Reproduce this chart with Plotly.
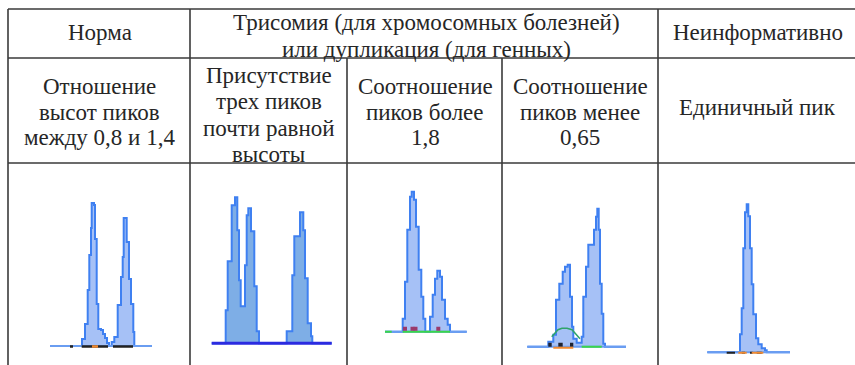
import plotly.graph_objects as go

# ---- page / table geometry (pixels) ----
W, H = 855, 365
ROW_LINES = [9, 58, 163]
FULL_COLS = [8, 190, 658]
SUB_COLS = [347, 502]

# ---- header texts: lines, centre x, first baseline, line step ----
headers = [
    (["Норма"], 99.5, 40.7, 0),
    (["Трисомия (для хромосомных болезней)", "или дупликация (для генных)"], 426, 30.5, 26.8),
    (["Неинформативно"], 758, 40.7, 0),
    (["Отношение", "высот пиков", "между 0,8 и 1,4"], 99.5, 94.3, 25.7),
    (["Присутствие", "трех пиков", "почти равной", "высоты"], 268.5, 83, 26.5),
    (["Соотношение", "пиков более", "1,8"], 425, 94.3, 25.7),
    (["Соотношение", "пиков менее", "0,65"], 580, 94.3, 25.7),
    (["Единичный пик"], 757, 115, 0),
]

# ---- electropherogram traces (position, signal) ----
norm_pos = [5, 37, 40, 42.7, 44.3, 46, 46.7, 49, 50, 51.7, 53.3, 56, 58, 60, 62, 64,
            66.7, 69.3, 72.7, 76, 77.7, 78.7, 81.7, 84, 86, 88.3, 89.3, 107]
norm_sig = [0, 7, 22, 56, 91, 118, 143, 141, 107, 42, 17, 16, 12, 8, 3, 0,
            4, 9, 41, 69, 89, 128, 104, 67, 42, 14, 0, 0]

tri_pos = [6.7, 20.7, 22.7, 26.7, 30, 32.3, 34, 35.7, 40, 41.7, 43.3, 46, 49.3, 51.7, 54,
           81.7, 87.3, 89.3, 95, 98.3, 100, 102.7, 106, 107.3, 126.7]
tri_sig = [0, 33, 82, 138, 146, 113, 63, 37, 78, 128, 135, 112, 57, 12, 0,
           12, 68, 107, 131, 113, 65, 20, 7, 0, 0]

hi_pos = [5, 22.7, 25, 27.3, 30, 31.7, 34, 36, 38.7, 41.3, 43.3, 45.3,
          50, 52.7, 55, 57.3, 60, 62, 65, 67.7, 70, 86.7]
hi_sig = [0, 13, 50, 102, 135, 140, 132, 105, 62, 35, 13, 0,
          15, 37, 53, 61, 55, 32, 13, 7, 0, 0]

lo_pos = [7.3, 28.3, 33.3, 36, 39.3, 42.7, 45, 47.7, 50, 52, 53.3, 56.7,
          61.7, 63.3, 66, 68.3, 74, 76, 77.3, 78.7, 80, 81.7, 83.3, 85, 106]
lo_sig = [0, 5, 12, 47, 63, 75, 80, 82, 50, 20, 8, 4,
          10, 50, 80, 102, 117, 130, 138, 117, 63, 33, 3, 0, 0]

single_pos = [7.3, 40, 41.7, 43.3, 45, 46.7, 48.3, 50, 51.7, 53.3, 56, 58.3, 61.7, 65, 66.7, 90]
single_sig = [0, 18, 44, 104, 140, 148, 136, 104, 68, 38, 14, 8, 4, 2, 0, 0]

# low-level bins along the baseline
norm_black = [25, 28, None, 36.7, 63, None, 68, 88]
norm_orange = [47, 53]
lo_arc_pos = [31.7, 35, 38, 42, 47, 52, 55, 58, 60]
lo_arc_sig = [10, 14, 17, 18.5, 18.5, 17, 14, 11, 8]
lo_black = [28.3, 31.7, None, 38.3, 42.7, None, 50, 53.3]
lo_orange = [33.3, 53.3]
hi_green = [5, 11.7, None, 22.7, 70]
hi_marks = [25, 32.5, 35.5, 58.3]
lo_green = [61.7, 81.7]
single_black = [26.7, 35, None, 41.7, 45, None, 50, 52.7, None, 56.7, 61.7]
single_orange = [38.3, 46.7, None, 51.7, 63.3]

# panel placement: (left px, baseline px)
panels = [
    (45, 346.0),
    (205, 343.3),
    (380, 331.7),
    (520, 346.7),
    (700, 352.3),
]
PAD_X, PAD_Y, SPAN_X, SPAN_Y = 5, 8, 130, 160

OUTLINE = "#3f80f1"
FILL = "#a6c1f6"
FILL_DARK = "#7eaee6"
BASE = "#6a9df1"
SERIF = "Liberation Serif"
FONT_SIZE = 23
# Liberation Serif: (ascent - descent) / 2 in em, offset of the box centre above the baseline
MID_ABOVE_BASE = 0.3375 * FONT_SIZE

fig = go.Figure()
layout_axes = {}

for i, (left, base) in enumerate(panels, start=1):
    xd = [(left - PAD_X) / W, (left + SPAN_X) / W]
    yd = [(H - (base + PAD_Y)) / H, (H - (base - SPAN_Y)) / H]
    sx = "" if i == 1 else str(i)
    layout_axes["xaxis" + sx] = dict(domain=xd, range=[-PAD_X, SPAN_X], visible=False,
                                     fixedrange=True, anchor="y" + sx)
    layout_axes["yaxis" + sx] = dict(domain=yd, range=[-PAD_Y, SPAN_Y], visible=False,
                                     fixedrange=True, anchor="x" + sx)


def ax(i):
    s = "" if i == 1 else str(i)
    return dict(xaxis="x" + s, yaxis="y" + s)


def peak(pos, sig, i, fill=FILL):
    fig.add_trace(go.Scatter(x=pos, y=sig, mode="lines", line=dict(color=OUTLINE, width=2, shape="hv"),
                             fill="tozeroy", fillcolor=fill, hoverinfo="skip", showlegend=False, **ax(i)))


def seg(xs, i, color, width=2, y=0.0):
    ys = [None if v is None else y for v in xs]
    fig.add_trace(go.Scatter(x=xs, y=ys, mode="lines", line=dict(color=color, width=width),
                             hoverinfo="skip", showlegend=False, **ax(i)))


# Норма
peak(norm_pos, norm_sig, 1)
seg([norm_pos[0], norm_pos[-1]], 1, BASE, 2)
seg(norm_black, 1, "#222222", 2.5, -0.5)
seg(norm_orange, 1, "#f08a30", 2.5, -0.5)

# три пика
peak(tri_pos, tri_sig, 2, FILL_DARK)
seg([tri_pos[0], tri_pos[-1]], 2, "#2b2be0", 3)

# соотношение > 1,8
peak(hi_pos, hi_sig, 3)
seg([hi_pos[0], hi_pos[-1]], 3, BASE, 2)
seg(hi_green, 3, "#3ad64a", 2)
fig.add_trace(go.Scatter(x=hi_marks, y=[3] * len(hi_marks), mode="markers",
                         marker=dict(symbol="square", size=4, color="#9a3a6c"),
                         hoverinfo="skip", showlegend=False, **ax(3)))

# соотношение < 0,65
peak(lo_pos, lo_sig, 4)
seg([lo_pos[0], lo_pos[-1]], 4, BASE, 2)
seg(lo_green, 4, "#3ad64a", 2)
fig.add_trace(go.Scatter(x=lo_arc_pos, y=lo_arc_sig, mode="lines", line=dict(color="#2fa46a", width=1.5),
                         hoverinfo="skip", showlegend=False, **ax(4)))
seg(lo_black, 4, "#1e2230", 4, 2)
seg(lo_orange, 4, "#f08a30", 2, -1)

# единичный пик
peak(single_pos, single_sig, 5)
seg([single_pos[0], single_pos[-1]], 5, BASE, 2)
seg(single_black, 5, "#222222", 2, -0.5)
seg(single_orange, 5, "#f08a30", 2, -0.5)

# ---- table grid ----
LINE = dict(color="#3a3a3a", width=1.6)
shapes = []
for yl in ROW_LINES:
    shapes.append(dict(type="line", xref="paper", yref="paper", x0=FULL_COLS[0] / W, x1=1,
                       y0=1 - yl / H, y1=1 - yl / H, line=LINE))
for xc in FULL_COLS:
    shapes.append(dict(type="line", xref="paper", yref="paper", x0=xc / W, x1=xc / W,
                       y0=1 - ROW_LINES[0] / H, y1=0, line=LINE))
for xc in SUB_COLS:
    shapes.append(dict(type="line", xref="paper", yref="paper", x0=xc / W, x1=xc / W,
                       y0=1 - ROW_LINES[1] / H, y1=0, line=LINE))

annotations = []
for lines, cx, first_base, step in headers:
    for k, line in enumerate(lines):
        yb = first_base + k * step
        annotations.append(dict(text=line, x=cx / W, y=1 - (yb - MID_ABOVE_BASE) / H,
                                xref="paper", yref="paper", xanchor="center", yanchor="middle",
                                showarrow=False, borderpad=0,
                                font=dict(family=SERIF, size=FONT_SIZE, color="#262626")))

fig.update_layout(
    width=W, height=H, margin=dict(l=0, r=0, t=0, b=0),
    paper_bgcolor="white", plot_bgcolor="rgba(0,0,0,0)",
    shapes=shapes, annotations=annotations, showlegend=False,
    **layout_axes,
)

fig.write_html("out.html", config={"displayModeBar": False})
